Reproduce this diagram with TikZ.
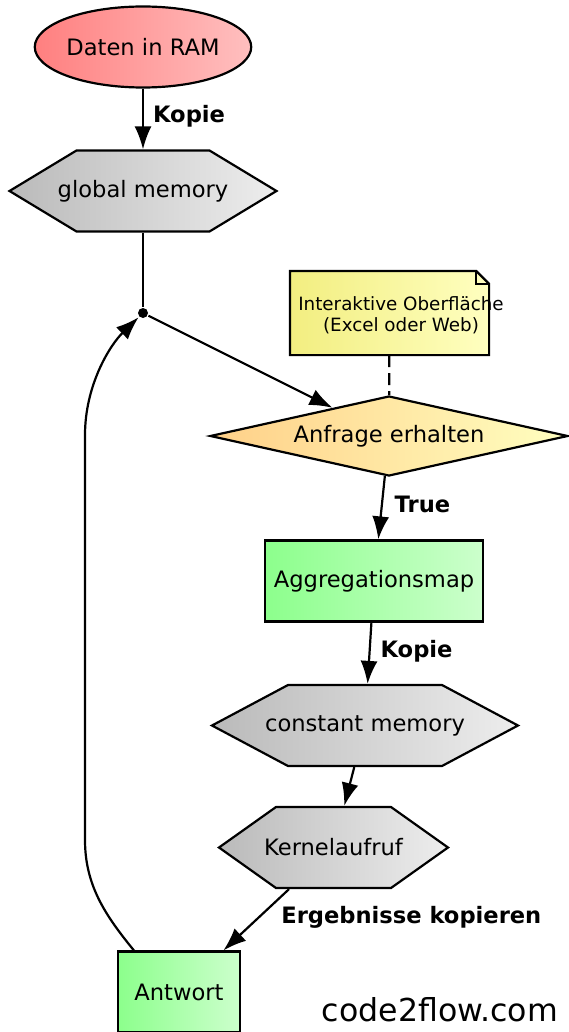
\documentclass[tikz,border=0pt]{standalone}
\usepackage{fontspec}
\setmainfont{DejaVu Sans}
\usetikzlibrary{arrows.meta,shapes.geometric}

\definecolor{notel}{RGB}{242,238,128}
\definecolor{noter}{RGB}{255,255,192}
\definecolor{askl}{RGB}{255,208,136}
\definecolor{askr}{RGB}{255,255,192}

% hexagon around a centre: x, y, half width, half top edge
\newcommand{\hexshape}[4]{\draw [hexfill] (#1, #2) +(-#3, 0) -- +(-#4, -40.5) -- +(#4, -40.5) -- +(#3, 0) -- +(#4, 40.5) -- +(-#4, 40.5) -- cycle;}

\begin{document}
\begin{tikzpicture}[x = 1pt, y = -1pt, > = {Latex[length=23pt,width=17pt]}, line width = 2.2pt,
	every node/.style = {font = \fontsize{22.6}{26}\selectfont, inner sep = 0pt},
	hexfill/.style = {left color = black!27, right color = black!7},
	hexbox/.style = {rectangle, minimum height = 81pt},
	process/.style = {rectangle, draw, left color = green!45, right color = green!20, minimum height = 81pt},
	lbl/.style = {font = \fontsize{22.6}{26}\selectfont\bfseries}]

	\useasboundingbox (0, 0) rectangle (569, 1032);

	% Shapes

	\node (ram) [ellipse, draw, left color = red!50, right color = red!25, minimum width = 215pt, minimum height = 81pt] at (143, 47) {Daten in RAM};

	\hexshape{143}{191}{133.5}{66.5}
	\node (global) [hexbox, minimum width = 133pt] at (143, 191) {\makebox[0pt]{global memory}};

	\node (junction) [circle, fill, minimum size = 10pt] at (143, 313) {};

	\node (uibox) [rectangle, minimum width = 197pt, minimum height = 82pt] at (389.5, 313) {};
	\draw [left color = notel, right color = noter] (uibox.north west) -- ([xshift = -13pt] uibox.north east) -- ([yshift = -13pt] uibox.north east) -- (uibox.south east) -- (uibox.south west) -- cycle;
	\draw ([xshift = -13pt] uibox.north east) -- ([xshift = -13pt, yshift = -13pt] uibox.north east) -- ([yshift = -13pt] uibox.north east);
	\node (uitext) [align = center, font = \fontsize{18.3}{21}\selectfont] at (401, 315) {Interaktive Oberfläche\\(Excel oder Web)};

	\node (anfrage) [diamond, aspect = 4.5, draw, left color = askl, right color = askr, minimum width = 358pt, minimum height = 80pt] at (389, 436) {Anfrage erhalten};
	\node (aggr) [process, minimum width = 218pt] at (374, 581) {Aggregationsmap};

	\hexshape{365}{725.5}{153}{77}
	\node (constant) [hexbox, minimum width = 154pt] at (365, 725.5) {\makebox[0pt]{constant memory}};

	\hexshape{333.5}{847.5}{114.5}{57.5}
	\node (kernel) [hexbox, minimum width = 115pt] at (333.5, 847.5) {\makebox[0pt]{Kernelaufruf}};

	\node (antwort) [process, minimum width = 122pt] at (179, 992) {Antwort};

	\node (brand) [font = \fontsize{31.6}{36}\selectfont] at (440, 1010) {code2flow.com};

	% Connectors

	\draw [->] (ram) -- node [lbl, right = 9pt, yshift = 3pt] {Kopie} (global);
	\draw (global) -- (junction);
	\draw [->] (junction) -- (anfrage);
	\draw [dashed, dash pattern = on 12pt off 6pt] (uibox) -- (anfrage);
	\draw [->] (anfrage) -- node [lbl, right = 12pt, yshift = 3pt] {True} (aggr);
	\draw [->] (aggr) -- node [lbl, right = 10pt, yshift = 2pt] {Kopie} (constant);
	\draw [->] (constant) -- (kernel);
	\draw [->] (kernel) -- node [lbl, right = 24pt, yshift = 2pt] {Ergebnisse kopieren} (antwort);

	% Loop back

	\draw [->] ([xshift = 17pt] antwort.north west) .. controls (105, 915) and (85, 885) .. (85, 840) -- (85, 435) .. controls (85, 385) and (110, 345) .. (junction);

\end{tikzpicture}
\end{document}
